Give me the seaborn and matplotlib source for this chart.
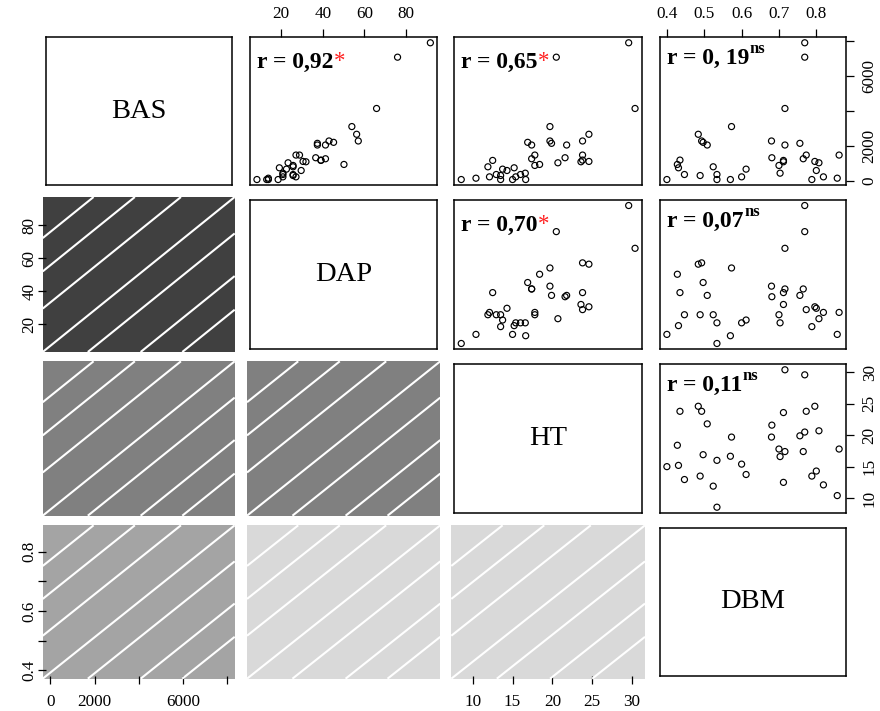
import numpy as np
import pandas as pd
import matplotlib
matplotlib.use("Agg")
import matplotlib.pyplot as plt
from matplotlib.patches import Rectangle
import seaborn as sns

# ---------------- data ----------------
variables = ["BAS", "DAP", "HT", "DBM"]
BAS = [96, 957, 766, 1206, 383, 2680, 325, 2297, 2220, 2067, 823, 383, 96, 96, 3120,
       249, 689, 2297, 1340, 900, 459, 1110, 1187, 4153, 2067, 2163, 1282, 7082, 7905,
       1493, 96, 1129, 612, 1052, 249, 172, 1493]
DAP = [13.8, 50.2, 19.1, 39.1, 25.7, 56.3, 25.7, 57.1, 45.2, 37.4, 25.7, 20.8, 8.3, 13.0, 54.0,
       20.8, 22.5, 43.0, 36.6, 25.7, 20.8, 31.9, 39.1, 65.9, 41.3, 37.4, 41.3, 76.0, 91.8,
       28.8, 18.5, 30.5, 29.6, 23.3, 27.1, 13.8, 27.1]
HT = [15.0, 18.4, 15.2, 23.8, 12.95, 24.6, 13.5, 23.8, 16.9, 21.8, 11.9, 16.0, 8.55, 16.65, 19.7,
      15.4, 13.75, 19.7, 21.6, 17.8, 16.6, 23.6, 12.5, 30.4, 17.4, 19.9, 17.4, 20.5, 29.6,
      23.8, 13.5, 24.6, 14.3, 20.7, 12.1, 10.4, 17.8]
DBM = [0.400, 0.428, 0.431, 0.435, 0.447, 0.484, 0.489, 0.493, 0.497, 0.508, 0.524, 0.534, 0.534,
       0.570, 0.573, 0.600, 0.612, 0.680, 0.681, 0.700, 0.703, 0.712, 0.712, 0.716, 0.716, 0.756,
       0.765, 0.769, 0.769, 0.773, 0.788, 0.796, 0.800, 0.807, 0.819, 0.856, 0.861]

r_text = {(0, 1): "r = 0,92", (0, 2): "r = 0,65", (0, 3): "r = 0, 19",
          (1, 2): "r = 0,70", (1, 3): "r = 0,07", (2, 3): "r = 0,11"}
r_sig = {(0, 1): "*", (0, 2): "*", (0, 3): "ns",
         (1, 2): "*", (1, 3): "ns", (2, 3): "ns"}

ticks = {"BAS": [0, 2000, 4000, 6000, 8000], "DAP": [20, 40, 60, 80],
         "HT": [10, 15, 20, 25, 30], "DBM": [0.4, 0.5, 0.6, 0.7, 0.8]}
ticklabels = {"BAS": ["0", "2000", "", "6000", ""], "DAP": ["20", "40", "60", "80"],
              "HT": ["10", "15", "20", "25", "30"],
              "DBM_top": ["0.4", "0.5", "0.6", "0.7", "0.8"],
              "DBM_left": ["0.4", "", "0.6", "", "0.8"]}

df = pd.DataFrame({"BAS": BAS, "DAP": DAP, "HT": HT, "DBM": DBM})

# ---------------- style ----------------
sns.set_theme(style="white")
plt.rcParams["font.family"] = ["Liberation Serif", "DejaVu Serif"]
plt.rcParams["axes.linewidth"] = 1.0

shade_col = {(1, 0): "#404040", (2, 0): "#808080", (2, 1): "#808080",
             (3, 0): "#A4A4A4", (3, 1): "#D9D9D9", (3, 2): "#D9D9D9"}
hatch_offsets = [0.735, 0.52, 0.28, 0.0, -0.235, -0.51, -0.727]

W, H = 880, 711
fig = plt.figure(figsize=(W / 100, H / 100), dpi=100)
col_px = [(45.7, 231.7), (250, 437.3), (454.3, 642), (660, 846)]
row_px = [(37.3, 185), (200, 349), (364.3, 512.7), (528.3, 675.7)]


def lim(v):
    a = np.asarray(df[v], float)
    r = a.max() - a.min()
    return a.min() - 0.04 * r, a.max() + 0.04 * r


TL = 5.8
TICKFS = 12.3
axes = {}
for i in range(4):
    for j in range(4):
        x0, x1 = col_px[j]
        y0, y1 = row_px[i]
        ax = fig.add_axes([x0 / W, 1 - y1 / H, (x1 - x0) / W, (y1 - y0) / H])
        axes[(i, j)] = ax
        ax.set_facecolor("none")
        xv, yv = variables[j], variables[i]
        ax.set_xlim(*lim(xv))
        ax.set_ylim(*lim(yv))
        ax.set_xticks([])
        ax.set_yticks([])
        ax.set_xlabel("")
        ax.set_ylabel("")
        for s in ax.spines.values():
            s.set_color("black")
            s.set_linewidth(1.1)
        if i == j:
            ax.text(0.5, 0.5, variables[i], transform=ax.transAxes, ha="center",
                    va="center", fontsize=20.5, color="black")
        elif i < j:
            sns.scatterplot(data=df, x=xv, y=yv, ax=ax, marker="o", s=19,
                            facecolor="none", edgecolor="black", linewidth=0.85)
            ax.set_xlabel("")
            ax.set_ylabel("")
            h = y1 - y0
            base = 30.5 if r_sig[(i, j)] == "*" else 27.0
            t = ax.text(6.7 / (x1 - x0), 1 - base / h, r_text[(i, j)],
                        transform=ax.transAxes, ha="left", va="baseline",
                        fontsize=17, fontweight="bold", color="black")
            if r_sig[(i, j)] == "*":
                ax.annotate("*", xy=(1, 1), xycoords=t, xytext=(0.3, 0.5),
                            textcoords="offset points", ha="left", va="top",
                            fontsize=16.5, color="#FF2020")
            else:
                ax.annotate("ns", xy=(1, 1), xycoords=t, xytext=(0.6, -3.3),
                            textcoords="offset points", ha="left", va="baseline",
                            fontsize=12, fontweight="bold", color="black")
        else:
            for s in ax.spines.values():
                s.set_visible(False)
            ex, ey = 3.0 / (x1 - x0), 3.0 / (y1 - y0)
            ax.add_patch(Rectangle((-ex, -ey), 1 + 2 * ex, 1 + 2 * ey,
                                   transform=ax.transAxes, facecolor=shade_col[(i, j)],
                                   edgecolor="none", clip_on=False, zorder=0))
            for c in hatch_offsets:
                xa, xb = max(0.0, -c), min(1.0, 1.0 - c)
                xs = np.array([xa, xb])
                ys = xs + c
                ax.plot(-ex + xs * (1 + 2 * ex), -ey + ys * (1 + 2 * ey),
                        transform=ax.transAxes, color="white", lw=1.5,
                        clip_on=False, zorder=1, solid_capstyle="butt")

# ---------------- outer axes ----------------
def style_ticks(ax, axis, pad):
    ax.tick_params(axis=axis, which="both", direction="out", length=TL, width=0.9,
                   color="black", labelsize=TICKFS, labelcolor="black", pad=pad)

# top axes
for j, key in [(1, "DAP"), (3, "DBM_top")]:
    ax = axes[(0, j)]
    v = variables[j]
    ax.set_xticks(ticks[v])
    ax.set_xticklabels(ticklabels[key])
    ax.xaxis.set_ticks_position("top")
    ax.xaxis.set_label_position("top")
    style_ticks(ax, "x", 5.0)

# bottom axes
for j, key in [(0, "BAS"), (2, "HT")]:
    ax = axes[(3, j)]
    v = variables[j]
    ax.set_xticks(ticks[v])
    ax.set_xticklabels(ticklabels[key])
    ax.xaxis.set_ticks_position("bottom")
    style_ticks(ax, "x", 7.5)

# left axes
for i, key in [(1, "DAP"), (3, "DBM_left")]:
    ax = axes[(i, 0)]
    v = variables[i]
    ax.set_yticks(ticks[v])
    ax.set_yticklabels(ticklabels[key], rotation=90, va="center")
    ax.yaxis.set_ticks_position("left")
    style_ticks(ax, "y", 0.3)

# right axes
for i, key in [(0, "BAS"), (2, "HT")]:
    ax = axes[(i, 3)]
    v = variables[i]
    ax.set_yticks(ticks[v])
    ax.set_yticklabels(ticklabels[key], rotation=90, va="center")
    ax.yaxis.set_ticks_position("right")
    style_ticks(ax, "y", 5.5)

fig.savefig("out.png", dpi=100, facecolor="white")
